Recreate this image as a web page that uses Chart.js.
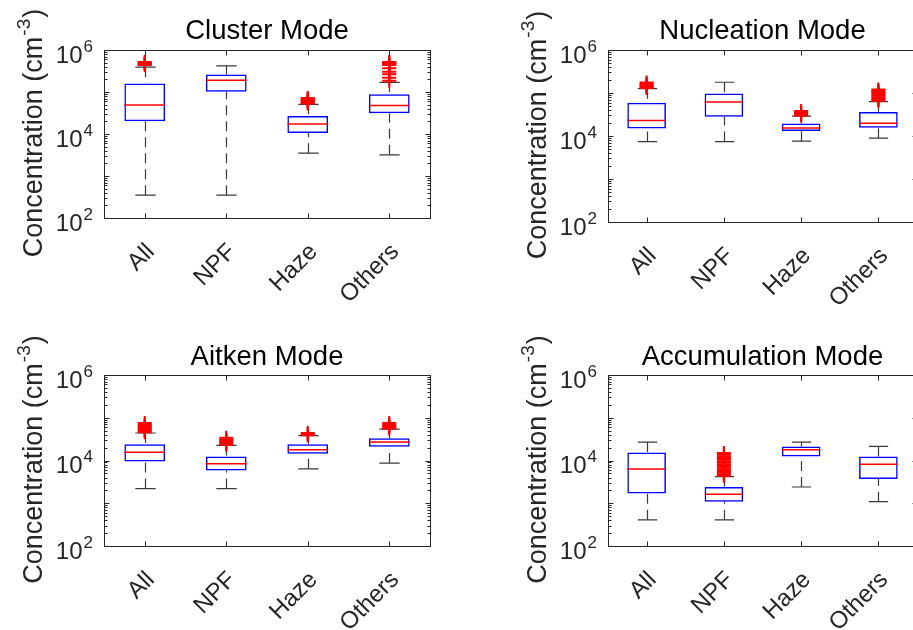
<!DOCTYPE html>
<html lang="en">
<head>
<meta charset="UTF-8">
<title>Concentration by mode</title>
<script src="https://cdn.jsdelivr.net/npm/chart.js"></script>
<style>
    html, body {
        margin: 0;
        padding: 0;
        background: #ffffff;
        width: 913px;
        height: 630px;
        overflow: hidden;
    }
    canvas {
        position: absolute;
    }
</style>
</head>
<body>

<canvas id="cluster" width="456" height="315" style="left:0;top:0"></canvas>
<canvas id="nucleation" width="470" height="315" style="left:456px;top:0"></canvas>
<canvas id="aitken" width="456" height="315" style="left:0;top:315px"></canvas>
<canvas id="accumulation" width="470" height="315" style="left:456px;top:315px"></canvas>

<script>
const categories = ['All', 'NPF', 'Haze', 'Others'];
const yTicks = [1e2, 1e4, 1e6];
const yTitle = ['Concentration (cm', '-3', ')'];   // base, superscript, closing

// Cluster mode
const clusterLow = [350, 350, 3500, 3200];
const clusterQ1 = [2.0e4, 1.02e5, 1.05e4, 3.1e4];
const clusterMed = [4.9e4, 1.9e5, 1.73e4, 4.8e4];
const clusterQ3 = [1.6e5, 2.6e5, 2.7e4, 8.9e4];
const clusterHigh = [3.9e5, 4.2e5, 5.1e4, 1.7e5];
const clusterOut = [
    [4.4e5, 4.6e5, 4.8e5, 5.0e5, 5.2e5],
    [],
    [5.3e4, 5.6e4, 5.9e4, 6.2e4, 6.5e4, 6.9e4, 7.2e4],
    [1.86e5, 2.19e5, 2.64e5, 3.04e5, 3.66e5, 4.4e5, 4.6e5, 4.8e5, 5.0e5, 5.2e5]
];

// Nucleation mode
const nucleationLow = [7.4e3, 7.4e3, 7.6e3, 8.9e3];
const nucleationQ1 = [1.5e4, 2.8e4, 1.31e4, 1.56e4];
const nucleationMed = [2.3e4, 6.2e4, 1.53e4, 1.97e4];
const nucleationQ3 = [5.9e4, 9.7e4, 1.94e4, 3.6e4];
const nucleationHigh = [1.26e5, 1.78e5, 2.9e4, 6.3e4];
const nucleationOut = [
    [1.3e5, 1.38e5, 1.46e5, 1.55e5, 1.65e5, 1.75e5],
    [],
    [3.0e4, 3.2e4, 3.4e4, 3.6e4, 3.8e4],
    [6.6e4, 7.0e4, 7.5e4, 8.0e4, 8.6e4, 9.2e4, 9.9e4, 1.06e5, 1.13e5, 1.2e5]
];

// Aitken mode
const aitkenLow = [2.2e3, 2.2e3, 6.4e3, 8.7e3];
const aitkenQ1 = [9.5e3, 5.8e3, 1.43e4, 2.1e4];
const aitkenMed = [1.57e4, 8.4e3, 1.78e4, 2.7e4];
const aitkenQ3 = [2.4e4, 1.24e4, 2.4e4, 3.3e4];
const aitkenHigh = [4.4e4, 2.25e4, 3.8e4, 5.4e4];
const aitkenOut = [
    [4.6e4, 4.9e4, 5.2e4, 5.6e4, 6.0e4, 6.4e4, 6.9e4, 7.5e4],
    [2.35e4, 2.5e4, 2.7e4, 2.9e4, 3.1e4, 3.4e4],
    [3.9e4, 4.1e4, 4.4e4],
    [5.6e4, 6.0e4, 6.4e4, 6.9e4, 7.5e4]
];

// Accumulation mode
const accumulationLow = [410, 410, 2.4e3, 1.09e3];
const accumulationQ1 = [1.7e3, 1.09e3, 1.24e4, 3.7e3];
const accumulationMed = [6.3e3, 1.62e3, 1.78e4, 8.2e3];
const accumulationQ3 = [1.54e4, 2.4e3, 2.13e4, 1.24e4];
const accumulationHigh = [2.7e4, 4.2e3, 2.7e4, 2.13e4];
const accumulationOut = [
    [],
    [4.4e3, 4.8e3, 5.2e3, 5.7e3, 6.2e3, 6.8e3, 7.4e3, 8.1e3, 8.8e3, 9.6e3, 1.05e4, 1.15e4, 1.26e4, 1.38e4, 1.5e4],
    [],
    []
];

const FONT = '"Liberation Sans", Arial, Helvetica, sans-serif';
const AXIS_COLOR = '#262626';

// whiskers under the boxes; medians, frame, log tick labels and y title on top
const boxExtras = {
    id: 'boxExtras',
    beforeDatasetsDraw(chart, args, opts) {
        const { ctx, scales: { x, y } } = chart;
        const step = x.width / categories.length;
        ctx.save();
        ctx.strokeStyle = '#3a3a3a';
        ctx.lineWidth = 1.2;
        opts.low.forEach((lo, i) => {
            const cx = Math.round(x.getPixelForValue(i)) + 0.5;
            const yHigh = y.getPixelForValue(opts.high[i]);
            const yLow = y.getPixelForValue(lo);
            ctx.setLineDash([10, 6]);
            ctx.beginPath();
            ctx.moveTo(cx, yHigh);
            ctx.lineTo(cx, y.getPixelForValue(opts.q3[i]));
            ctx.moveTo(cx, yLow);
            ctx.lineTo(cx, y.getPixelForValue(opts.q1[i]));
            ctx.stroke();
            ctx.setLineDash([]);
            ctx.beginPath();
            ctx.moveTo(cx - step * 0.125, yHigh);
            ctx.lineTo(cx + step * 0.125, yHigh);
            ctx.moveTo(cx - step * 0.125, yLow);
            ctx.lineTo(cx + step * 0.125, yLow);
            ctx.stroke();
        });
        ctx.restore();
    },
    afterDatasetsDraw(chart, args, opts) {
        const { ctx, chartArea: a, scales: { x, y } } = chart;
        const step = x.width / categories.length;
        ctx.save();
        ctx.strokeStyle = '#ff0000';
        ctx.lineWidth = 1.5;
        opts.med.forEach((m, i) => {
            const cx = x.getPixelForValue(i);
            const my = y.getPixelForValue(m);
            ctx.beginPath();
            ctx.moveTo(cx - step * 0.25, my);
            ctx.lineTo(cx + step * 0.25, my);
            ctx.stroke();
        });

        // axes box
        ctx.strokeStyle = AXIS_COLOR;
        ctx.lineWidth = 1;
        const L = Math.round(a.left) + 0.5, R = Math.round(a.right) + 0.5;
        const T = Math.round(a.top) + 0.5, B = Math.round(a.bottom) + 0.5;
        ctx.strokeRect(L, T, R - L, B - T);

        // inward ticks, log minor ticks too
        ctx.beginPath();
        for (let d = 2; d <= 6; d++) {
            for (let k = 1; k <= 9; k++) {
                if (d === 6 && k > 1) break;
                const ty = Math.round(y.getPixelForValue(k * Math.pow(10, d))) + 0.5;
                const len = k === 1 ? 5 : 3;
                ctx.moveTo(L, ty); ctx.lineTo(L + len, ty);
                ctx.moveTo(R, ty); ctx.lineTo(R - len, ty);
            }
        }
        categories.forEach((c, i) => {
            const tx = Math.round(x.getPixelForValue(i)) + 0.5;
            ctx.moveTo(tx, B); ctx.lineTo(tx, B - 5);
            ctx.moveTo(tx, T); ctx.lineTo(tx, T + 5);
        });
        ctx.stroke();

        // y tick labels as 10 with a raised exponent
        ctx.fillStyle = AXIS_COLOR;
        ctx.textAlign = 'right';
        ctx.textBaseline = 'alphabetic';
        yTicks.forEach(v => {
            const ty = y.getPixelForValue(v);
            const exp = String(Math.round(Math.log10(v)));
            ctx.font = '17px ' + FONT;
            const ew = ctx.measureText(exp).width;
            ctx.fillText(exp, a.left - 11, ty + 1.5);
            ctx.font = '24px ' + FONT;
            ctx.fillText('10', a.left - 12 - ew, ty + 12.5);
        });

        // y axis title, rotated, with superscript
        ctx.save();
        ctx.translate(a.left - 62, (a.top + a.bottom) / 2);
        ctx.rotate(-Math.PI / 2);
        ctx.textAlign = 'left';
        ctx.font = '27px ' + FONT;
        const w0 = ctx.measureText(yTitle[0]).width;
        const w2 = ctx.measureText(yTitle[2]).width;
        ctx.font = '19px ' + FONT;
        const w1 = ctx.measureText(yTitle[1]).width;
        let sx = -(w0 + w1 + w2) / 2;
        ctx.font = '27px ' + FONT;
        ctx.fillText(yTitle[0], sx, 0);
        ctx.font = '19px ' + FONT;
        ctx.fillText(yTitle[1], sx + w0 + 1, -12);
        ctx.font = '27px ' + FONT;
        ctx.fillText(yTitle[2], sx + w0 + w1 + 2, 0);
        ctx.restore();

        ctx.restore();
    }
};

function makePanel(id, title, low, q1, med, q3, high, out, box) {
    const ctx = document.getElementById(id).getContext('2d');
    const points = [];
    out.forEach((vals, i) => vals.forEach(v => points.push({ x: categories[i], y: v })));

    return new Chart(ctx, {
        type: 'bar',
        data: {
            labels: categories,
            datasets: [{
                type: 'bar',
                data: q1.map((v, i) => [v, q3[i]]),
                backgroundColor: 'rgba(0,0,0,0)',
                borderColor: '#0000ff',
                borderWidth: 1.5,
                borderSkipped: false,
                barPercentage: 0.5,
                categoryPercentage: 1,
                order: 2
            }, {
                type: 'line',
                data: points,
                showLine: false,
                pointStyle: 'cross',
                pointRadius: 7,
                pointBorderWidth: 2,
                pointBorderColor: '#ff0000',
                pointBackgroundColor: '#ff0000',
                order: 1
            }]
        },
        options: {
            responsive: false,
            animation: false,
            events: [],
            layout: { padding: { left: 0, right: box.padRight, top: 0, bottom: 0 } },
            plugins: {
                legend: { display: false },
                tooltip: { enabled: false },
                title: {
                    display: true,
                    text: title,
                    fullSize: false,
                    color: '#000000',
                    font: { family: FONT, size: 27.5, weight: 'normal' },
                    padding: { top: box.titleTop, bottom: box.titleBottom }
                },
                boxExtras: { low, med, q1, q3, high }
            },
            scales: {
                x: {
                    type: 'category',
                    offset: true,
                    grid: { display: false, drawTicks: false },
                    border: { display: false },
                    ticks: {
                        minRotation: 45,
                        maxRotation: 45,
                        padding: 20,
                        labelOffset: 6,
                        color: AXIS_COLOR,
                        font: { family: FONT, size: 24 }
                    },
                    afterFit: s => {
                        s.height = box.xHeight;
                        s.paddingLeft = 0;
                        s.paddingRight = 0;
                    }
                },
                y: {
                    type: 'logarithmic',
                    min: 1e2,
                    max: 1e6,
                    grid: { display: false, drawTicks: false },
                    border: { display: false },
                    ticks: { display: false },
                    afterFit: s => { s.width = box.yWidth; }
                }
            }
        },
        plugins: [boxExtras]
    });
}

makePanel('cluster', 'Cluster Mode', clusterLow, clusterQ1, clusterMed, clusterQ3, clusterHigh, clusterOut,
    { padRight: 26, yWidth: 104, xHeight: 97, titleTop: 15, titleBottom: 2 });
makePanel('nucleation', 'Nucleation Mode', nucleationLow, nucleationQ1, nucleationMed, nucleationQ3, nucleationHigh, nucleationOut,
    { padRight: 7, yWidth: 152, xHeight: 93, titleTop: 15, titleBottom: 2 });
makePanel('aitken', 'Aitken Mode', aitkenLow, aitkenQ1, aitkenMed, aitkenQ3, aitkenHigh, aitkenOut,
    { padRight: 26, yWidth: 104, xHeight: 84, titleTop: 26, titleBottom: 1 });
makePanel('accumulation', 'Accumulation Mode', accumulationLow, accumulationQ1, accumulationMed, accumulationQ3, accumulationHigh, accumulationOut,
    { padRight: 7, yWidth: 152, xHeight: 84, titleTop: 26, titleBottom: 1 });
</script>

</body>
</html>
